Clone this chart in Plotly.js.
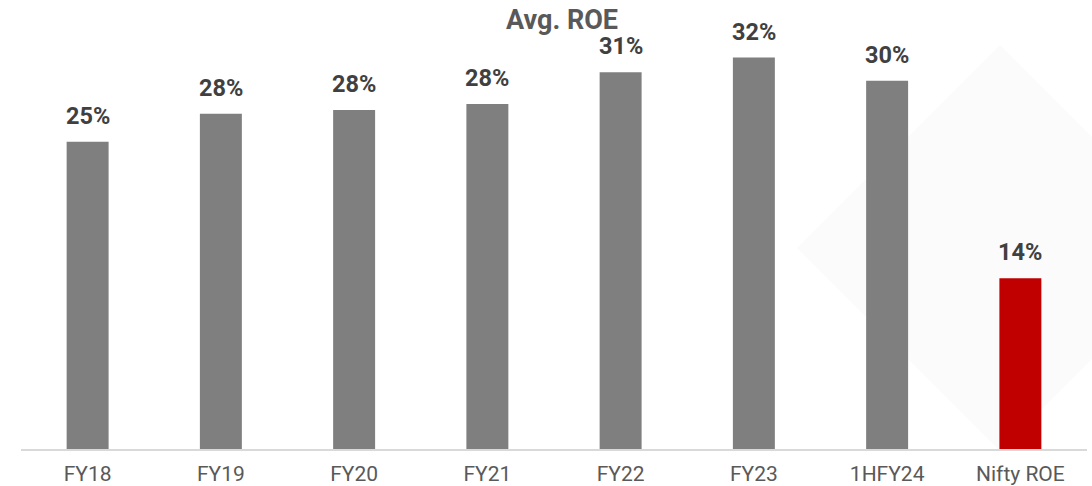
<!DOCTYPE html>
<html>
<head>
<meta charset="utf-8">
<script src="https://cdn.plot.ly/plotly-3.0.1.min.js"></script>
<style>
  html, body { margin: 0; padding: 0; background: #ffffff; }
  #chart { width: 1092px; height: 486px; }
</style>
</head>
<body>
<div id="chart"></div>
<script>
const categories = ["FY18", "FY19", "FY20", "FY21", "FY22", "FY23", "1HFY24", "Nifty ROE"];
const roeValues = [25.2, 27.5, 27.8, 28.3, 30.9, 32.1, 30.2, 14.0];
const roeLabels = ["25%", "28%", "28%", "28%", "31%", "32%", "30%", "14%"];
const barColors = ["#7f7f7f", "#7f7f7f", "#7f7f7f", "#7f7f7f", "#7f7f7f", "#7f7f7f", "#7f7f7f", "#c00000"];

const W = 1092, H = 486;
const mL = 21, mR = 5, mT = 10, mB = 37;
const pw = W - mL - mR, ph = H - mT - mB;
function px(x) { return (x - mL) / pw; }
function py(y) { return (H - mB - y) / ph; }

const trace = {
  type: "bar",
  x: categories,
  y: roeValues,
  marker: { color: barColors, line: { width: 0 } },
  hoverinfo: "skip"
};

const annotations = categories.map((c, i) => ({
  x: c, y: roeValues[i], xref: "x", yref: "y",
  text: roeLabels[i], showarrow: false,
  yanchor: "bottom", xanchor: "center", yshift: 10,
  font: { family: "Roboto, sans-serif", size: 23.5, color: "#404040", weight: 700 }
}));

const diamond = {
  type: "path", xref: "paper", yref: "paper", layer: "below",
  path: "M " + px(797) + " " + py(248) +
        " L " + px(1000) + " " + py(45) +
        " L " + px(1203) + " " + py(248) +
        " L " + px(1000) + " " + py(451) + " Z",
  fillcolor: "rgba(0,0,0,0.015)", line: { width: 0 }
};

const layout = {
  width: W, height: H,
  margin: { l: mL, r: mR, t: mT, b: mB, pad: 0 },
  paper_bgcolor: "#ffffff", plot_bgcolor: "rgba(0,0,0,0)",
  font: { family: "Roboto, sans-serif", color: "#595959" },
  title: {
    text: "<b>Avg. ROE</b>",
    x: 562 / W, xanchor: "center", xref: "container",
    y: 1 - 20 / H, yanchor: "middle", yref: "container",
    font: { family: "Roboto, sans-serif", size: 27, color: "#595959" }
  },
  bargap: 0.685,
  showlegend: false,
  xaxis: {
    type: "category",
    showline: true, linecolor: "#d9d9d9", linewidth: 1.5,
    ticks: "", showgrid: false, zeroline: false,
    ticklabelstandoff: 5,
    tickfont: { family: "Roboto, sans-serif", size: 21, color: "#595959" },
    fixedrange: true
  },
  yaxis: {
    range: [0, 36], showgrid: false, zeroline: false, showline: false,
    showticklabels: false, ticks: "", fixedrange: true
  },
  shapes: [diamond],
  annotations: annotations
};

Plotly.newPlot("chart", [trace], layout, { displayModeBar: false, staticPlot: true });
</script>
</body>
</html>
